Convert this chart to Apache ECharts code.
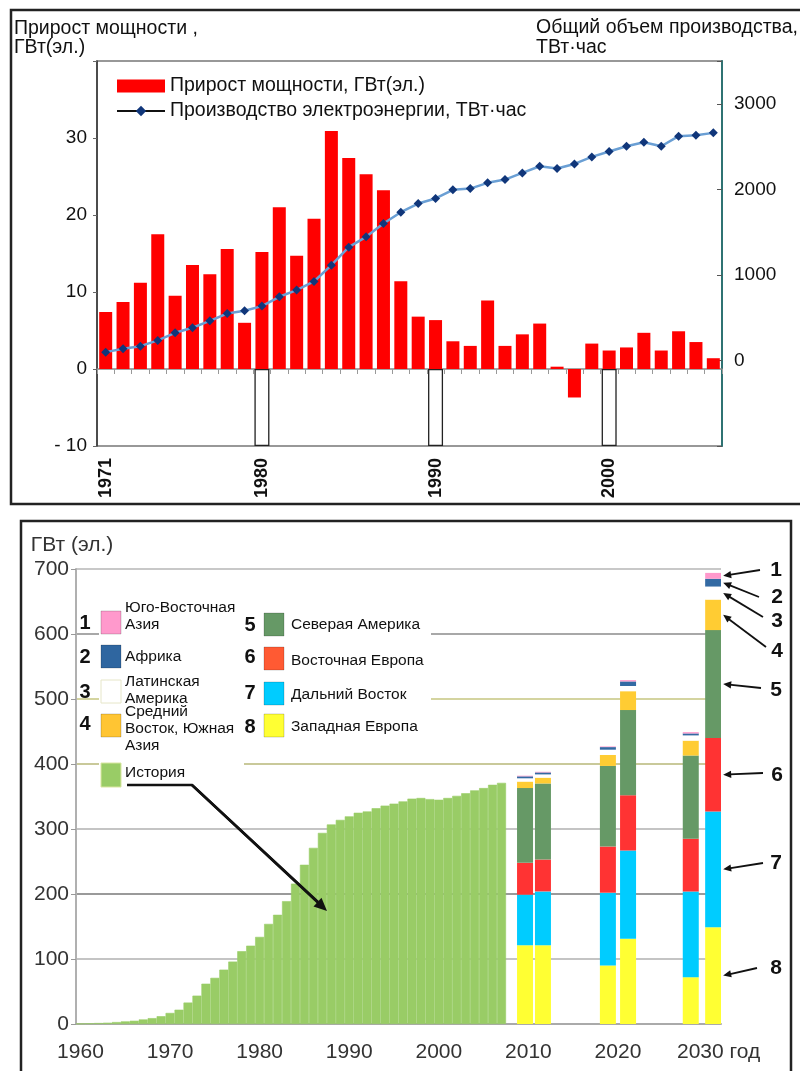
<!DOCTYPE html>
<html><head><meta charset="utf-8">
<script src="https://cdn.jsdelivr.net/npm/echarts@6/dist/echarts.min.js"></script>
<style>html,body{margin:0;padding:0;background:#fff}#c{width:800px;height:1071px}</style>
</head><body><div id="c"></div>
<script>
// ---------- DATA: top chart ----------
const topYears = ['1971','1972','1973','1974','1975','1976','1977','1978','1979','1980',
  '1981','1982','1983','1984','1985','1986','1987','1988','1989','1990',
  '1991','1992','1993','1994','1995','1996','1997','1998','1999','2000',
  '2001','2002','2003','2004','2005','2006'];
const capacityGrowth = [7.4, 8.7, 11.2, 17.5, 9.5, 13.5, 12.3, 15.6, 6.0, 15.2,
  21.0, 14.7, 19.5, 30.9, 27.4, 25.3, 23.2, 11.4, 6.8, 6.35,
  3.6, 3.0, 8.9, 3.0, 4.5, 5.9, 0.3, -3.7, 3.3, 2.4,
  2.8, 4.7, 2.4, 4.9, 3.5, 1.4];
const production = [97, 136, 167, 234, 323, 382, 463, 549, 580, 635,
  744, 822, 923, 1114, 1324, 1445, 1600, 1733, 1834, 1893,
  1994, 2009, 2076, 2114, 2192, 2270, 2243, 2297, 2379, 2442,
  2504, 2551, 2504, 2621, 2632, 2660];
const topLabelYears = ['1971','1980','1990','2000'];
const markedYears = ['1980','1990','2000'];
const markedDepth = -10;
const leftTickLabels = [-10, 0, 10, 20, 30];
const rightTickLabels = [0, 1000, 2000, 3000];

// ---------- DATA: bottom chart ----------
const axisYears = ['1960','1961','1962','1963','1964','1965','1966','1967','1968','1969',
  '1970','1971','1972','1973','1974','1975','1976','1977','1978','1979',
  '1980','1981','1982','1983','1984','1985','1986','1987','1988','1989',
  '1990','1991','1992','1993','1994','1995','1996','1997','1998','1999',
  '2000','2001','2002','2003','2004','2005','2006','2007','2008','2009',
  '2010','2011','2012','2013','2014','2015','2016','2017','2018','2019',
  '2020','2021','2022','2023','2024','2025','2026','2027','2028','2029',
  '2030','2031'];
const historyCapacity = [0.5, 1, 1.5, 2, 3, 4, 5, 7, 9, 12,
  17, 22, 33, 43.6, 62, 71, 83.6, 96, 112, 120.5,
  134, 154, 168, 189, 216, 245, 271, 294, 307, 314,
  319.5, 325, 327, 332, 336, 339, 342.5, 346.7, 347.7, 346,
  345, 347.7, 351, 355, 359.5, 363, 368, 371];
const bottomXLabels = ['1960','1970','1980','1990','2000','2010','2020','2030'];
const bottomYTicks = [0, 100, 200, 300, 400, 500, 600, 700];
const forecastYears = ['2010', '2020', '2030'];
const scenarios = ['low', 'high'];
// each: [low 2010, high 2010, low 2020, high 2020, low 2030, high 2030]
const westEurope   = [121, 121, 90, 131, 72, 149];
const farEast      = [78, 83, 112, 136, 132, 178];
const eastEurope   = [49, 49, 71, 85, 81, 113];
const northAmerica = [115, 117, 124, 131, 128, 166];
const midEastSAsia = [10, 9, 17, 29, 23, 47];
const latinAmerica = [5, 5, 8, 8, 8, 20];
const africa       = [3, 3, 4, 7, 3, 12];
const seAsia       = [1, 1, 1, 2, 2, 9];
const regionNames = ['Юго-Восточная Азия', 'Африка', 'Латинская Америка', 'Средний Восток, Южная Азия',
  'Северая Америка', 'Восточная Европа', 'Дальний Восток', 'Западная Европа'];
const regionValues = [seAsia, africa, latinAmerica, midEastSAsia, northAmerica, eastEurope, farEast, westEurope];

// ---------- STYLE / LAYOUT ----------
const FONT = '"Liberation Sans", Arial, sans-serif';
const regionColors = ['#ff99cc', '#336aa3', '#ffffff', '#ffcc33', '#669966', '#ff3333', '#00ccff', '#ffff33'];
const legendBoxColors = ['#ff99cc', '#2f66a0', '#ffffff', '#ffc533', '#669966', '#ff5a33', '#00ccff', '#ffff33'];
const historyColor = '#99cc66';
// forecast bars sit on a hidden fine-grained slot axis (quarter-year slots)
const SLOT_COUNT = 288;
const slotCats = Array.from({length: SLOT_COUNT}, (_, i) => 's' + i);
const forecastSlots = [200, 208, 237, 246, 274, 284];

function forecastSeriesData(vals) {
  const out = slotCats.map(() => '-');
  vals.forEach((v, k) => { out[forecastSlots[k]] = v; });
  return out;
}

const chart = echarts.init(document.getElementById('c'), null, {renderer: 'canvas'});

const forecastSeries = [];
for (let i = 7; i >= 0; i--) {
  forecastSeries.push({
    name: regionNames[i], type: 'bar', stack: 'forecast',
    xAxisIndex: 3, yAxisIndex: 2, barWidth: 16,
    itemStyle: {color: regionColors[i]},
    data: forecastSeriesData(regionValues[i]),
    z: 3
  });
}

const splitColors = ['#aaaaaa', '#c4c4c4', '#9a9a9a', '#c4c4c4', '#c9c99a', '#d4d4a0', '#a8a8a8', '#c8c8c8'];

const option = {
  animation: false,
  backgroundColor: '#fff',
  textStyle: {fontFamily: FONT},
  grid: [
    {left: 97, top: 61, width: 625, height: 385, show: true, borderColor: '#777', borderWidth: 1.5, backgroundColor: '#fff'},
    {left: 76, top: 569, width: 645, height: 455}
  ],
  legend: {
    left: 116, top: 76, orient: 'vertical', itemWidth: 48, itemHeight: 13, itemGap: 5, padding: 0,
    selectedMode: false,
    textStyle: {fontSize: 19.5, lineHeight: 20, color: '#111', fontFamily: FONT},
    data: [
      {name: 'Прирост мощности, ГВт(эл.)', icon: 'rect'},
      {name: 'Производство электроэнергии, ТВт·час', itemStyle: {color: '#10367a'}, lineStyle: {color: '#111', width: 2}}
    ]
  },
  xAxis: [
    {type: 'category', gridIndex: 0, data: topYears,
      axisLine: {onZero: true, lineStyle: {color: '#888', width: 1.5}},
      axisTick: {show: true, interval: 0, length: 5, lineStyle: {color: '#999'}},
      axisLabel: {interval: (i, v) => topLabelYears.includes(v), rotate: 90, margin: 12,
        fontSize: 18, fontWeight: 'bold', color: '#111', fontFamily: FONT},
      splitLine: {show: false}},
    {type: 'category', gridIndex: 0, data: topYears, show: false},
    {type: 'category', gridIndex: 1, data: axisYears,
      axisLine: {lineStyle: {color: '#aaa', width: 2}},
      axisTick: {show: false},
      axisLabel: {interval: (i, v) => bottomXLabels.includes(v), margin: 18, fontSize: 21, color: '#333', fontFamily: FONT,
        formatter: v => v === '2030' ? '{g|2030 год}' : v,
        rich: {g: {fontSize: 21, color: '#333', fontFamily: FONT, padding: [0, 0, 0, 22]}}},
      splitLine: {show: false}},
    {type: 'category', gridIndex: 1, data: slotCats, show: false}
  ],
  yAxis: [
    {type: 'value', gridIndex: 0, min: -10, max: 40, interval: 10,
      axisLine: {show: true, lineStyle: {color: '#333', width: 1.5}},
      axisTick: {show: true, length: 4, lineStyle: {color: '#666'}},
      axisLabel: {margin: 10, fontSize: 19, color: '#111', fontFamily: FONT,
        formatter: v => leftTickLabels.includes(v) ? (v < 0 ? '- ' + Math.abs(v) : String(v)) : ''},
      splitLine: {show: false}},
    {type: 'value', gridIndex: 0, position: 'right', min: -1000, max: 3500, interval: 1000,
      axisLine: {show: true, lineStyle: {color: '#2f7373', width: 2}},
      axisTick: {show: true, length: 5, inside: true, lineStyle: {color: '#555'}},
      axisLabel: {margin: 12, fontSize: 19, color: '#111', fontFamily: FONT,
        formatter: v => rightTickLabels.includes(v) ? String(v) : ''},
      splitLine: {show: false}},
    {type: 'value', gridIndex: 1, min: 0, max: 700, interval: 100,
      name: 'ГВт (эл.)', nameLocation: 'end', nameGap: 13,
      nameTextStyle: {fontSize: 21, color: '#333', fontFamily: FONT, align: 'center', padding: [0, 0, 0, -8]},
      axisLine: {show: true, lineStyle: {color: '#b0b0b0', width: 2}},
      axisTick: {show: true, length: 5, lineStyle: {color: '#999'}},
      axisLabel: {margin: 7, fontSize: 21, color: '#333', fontFamily: FONT,
        formatter: v => bottomYTicks.includes(v) ? String(v) : ''},
      splitLine: {show: true, lineStyle: {color: splitColors, width: 2}}}
  ],
  series: [
    {name: 'Прирост мощности, ГВт(эл.)', type: 'bar', xAxisIndex: 0, yAxisIndex: 0,
      barWidth: 13, itemStyle: {color: '#ff0000'}, data: capacityGrowth, z: 2},
    {name: 'marks', type: 'bar', xAxisIndex: 1, yAxisIndex: 0, barWidth: 15,
      itemStyle: {color: 'rgba(0,0,0,0)', borderColor: '#222', borderWidth: 1.3},
      data: topYears.map(y => markedYears.includes(y) ? markedDepth : '-'), z: 1},
    {name: 'Производство электроэнергии, ТВт·час', type: 'line', xAxisIndex: 0, yAxisIndex: 1,
      data: production, symbol: 'diamond', symbolSize: 9,
      itemStyle: {color: '#10367a'}, lineStyle: {color: '#6a9fd4', width: 2.5}, z: 4},
    {name: 'История', type: 'bar', xAxisIndex: 2, yAxisIndex: 2, barCategoryGap: '0%',
      itemStyle: {color: historyColor, borderColor: historyColor, borderWidth: 0.6},
      data: historyCapacity, z: 2},
    ...forecastSeries
  ]
};
chart.setOption(option);

// ---------- annotations (graphic) ----------
function arrow(sx, sy, tx, ty, w, head) {
  const dx = tx - sx, dy = ty - sy, L = Math.hypot(dx, dy);
  const ux = dx / L, uy = dy / L, nx = -uy, ny = ux;
  const bx = tx - ux * head, by = ty - uy * head;
  return [
    {type: 'line', z: 20, shape: {x1: sx, y1: sy, x2: bx + ux * 2, y2: by + uy * 2}, style: {stroke: '#111', lineWidth: w}},
    {type: 'polygon', z: 20, shape: {points: [[tx, ty], [bx + nx * head * 0.45, by + ny * head * 0.45], [bx - nx * head * 0.45, by - ny * head * 0.45]]}, style: {fill: '#111'}}
  ];
}
const g = [];
// panel frames
g.push({type: 'rect', z: 30, shape: {x: 11, y: 10, width: 800, height: 494}, style: {fill: 'none', stroke: '#222', lineWidth: 2.5}});
g.push({type: 'rect', z: 30, shape: {x: 21, y: 521, width: 770, height: 600}, style: {fill: 'none', stroke: '#222', lineWidth: 2.5}});
// top axis titles
g.push({type: 'text', z: 20, left: 14, top: 19, style: {text: 'Прирост мощности ,\nГВт(эл.)', font: '19.5px ' + FONT, fill: '#111', lineHeight: 19}});
g.push({type: 'text', z: 20, right: 2, top: 18, style: {text: 'Общий объем производства,\nТВт·час', font: '19.5px ' + FONT, fill: '#111', align: 'right', lineHeight: 20}});

// bottom legend background
g.push({type: 'rect', z: 10, shape: {x: 99, y: 597, width: 332, height: 160}, style: {fill: '#fff'}});
g.push({type: 'rect', z: 10, shape: {x: 99, y: 597, width: 145, height: 194}, style: {fill: '#fff'}});
const legLeft = [
  {n: '1', i: 0, ny: 623, by: 611, text: 'Юго-Восточная\nАзия', ty: 616},
  {n: '2', i: 1, ny: 657, by: 645, text: 'Африка', ty: 657},
  {n: '3', i: 2, ny: 692, by: 680, text: 'Латинская\nАмерика', ty: 690},
  {n: '4', i: 3, ny: 724, by: 714, text: 'Средний\nВосток, Южная\nАзия', ty: 729}
];
const legRight = [
  {n: '5', i: 4, ny: 625, by: 613, text: regionNames[4], ty: 625},
  {n: '6', i: 5, ny: 657, by: 647, text: regionNames[5], ty: 661},
  {n: '7', i: 6, ny: 693, by: 682, text: regionNames[6], ty: 695},
  {n: '8', i: 7, ny: 727, by: 714, text: regionNames[7], ty: 727}
];
function legendItem(it, nx, bx, tx) {
  g.push({type: 'text', z: 12, x: nx, y: it.ny, style: {text: it.n, font: 'bold 20px ' + FONT, fill: '#111', align: 'center', verticalAlign: 'middle'}});
  g.push({type: 'rect', z: 12, shape: {x: bx, y: it.by, width: 20, height: 23},
    style: {fill: legendBoxColors[it.i], stroke: it.i === 2 ? '#e6e6c8' : 'rgba(0,0,0,0.18)', lineWidth: 1}});
  g.push({type: 'text', z: 12, x: tx, y: it.ty, style: {text: it.text, font: '15.5px ' + FONT, fill: '#111', align: 'left', verticalAlign: 'middle', lineHeight: 17}});
}
legLeft.forEach(it => legendItem(it, 85, 101, 125));
legRight.forEach(it => legendItem(it, 250, 264, 291));
g.push({type: 'rect', z: 12, shape: {x: 101, y: 763, width: 20, height: 24}, style: {fill: historyColor, stroke: '#d9e6a0', lineWidth: 1}});
g.push({type: 'text', z: 12, x: 125, y: 773, style: {text: 'История', font: '15.5px ' + FONT, fill: '#111', verticalAlign: 'middle'}});
// arrow from history legend
g.push({type: 'polyline', z: 20, shape: {points: [[127, 785], [192, 785], [318, 902]]}, style: {stroke: '#111', lineWidth: 2.5, fill: 'none'}});
arrow(192, 785, 327, 911, 2.5, 13).forEach(e => g.push(e));

// right-side numbered arrows pointing to the 2030 high-scenario bar segments
const hiIdx = 5;
const hiX = chart.convertToPixel({xAxisIndex: 3}, slotCats[forecastSlots[hiIdx]]) + 8 + 2;
let cum = 0;
const segMid = [];
for (let i = 7; i >= 0; i--) {
  const v = regionValues[i][hiIdx];
  segMid[i] = cum + v / 2;
  cum += v;
}
const numPos = [[776, 570, 760, 570], [777, 597, 759, 597], [777, 621, 763, 617], [777, 651, 766, 647],
  [776, 690, 761, 688], [777, 775, 763, 773], [776, 863, 763, 863], [776, 968, 757, 968]];
numPos.forEach((p, i) => {
  g.push({type: 'text', z: 20, x: p[0], y: p[1], style: {text: String(i + 1), font: 'bold 21px ' + FONT, fill: '#111', align: 'center', verticalAlign: 'middle'}});
  const ty = chart.convertToPixel({yAxisIndex: 2}, segMid[i]);
  arrow(p[2], p[3], hiX, ty, 1.8, 8).forEach(e => g.push(e));
});

chart.setOption({graphic: g});
</script>
</body></html>
